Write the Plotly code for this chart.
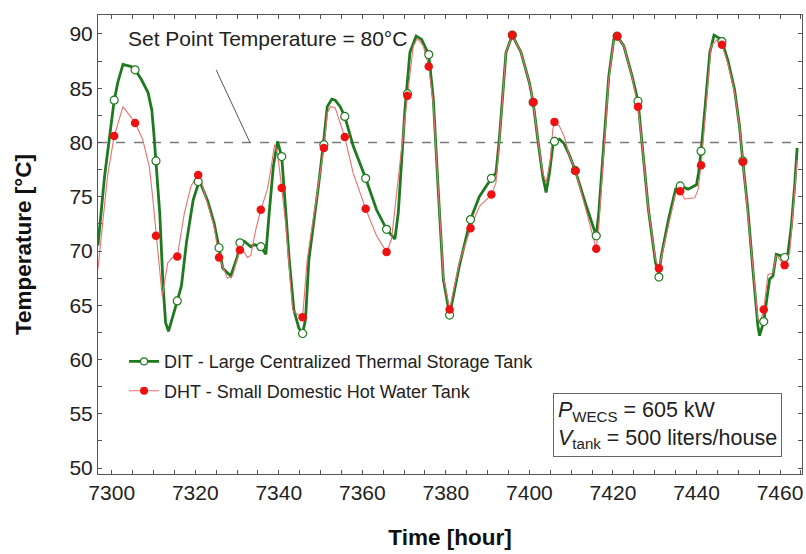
import plotly.graph_objects as go

# ---- data ----
dit_hours = [7296.7, 7298.3, 7300.6, 7301.5, 7302.7, 7304.7, 7305.6, 7307.1, 7308.7, 7309.6, 7310.1, 7310.6,
             7311.5, 7312.3, 7312.9, 7313.6, 7314.7, 7315.7, 7316.7, 7317.9, 7319.5, 7321.0, 7323.0, 7324.5,
             7325.7, 7326.6, 7328.5, 7330.1, 7330.7, 7331.7, 7333.3, 7334.1, 7335.7, 7336.9, 7337.7, 7338.7,
             7339.7, 7340.7, 7341.7, 7342.5, 7343.6, 7344.8, 7345.7, 7346.4, 7347.2, 7348.4, 7349.6, 7350.8,
             7351.6, 7352.7, 7353.5, 7354.7, 7355.8, 7357.8, 7360.8, 7363.4, 7365.8, 7367.8, 7368.6, 7370.2,
             7371.4, 7372.9, 7374.2, 7375.9, 7377.0, 7378.2, 7379.4, 7380.9, 7383.2, 7385.9, 7388.0, 7390.9,
             7392.0, 7392.8, 7393.6, 7394.4, 7395.9, 7398.0, 7400.0, 7400.9, 7402.0, 7403.2, 7404.0, 7404.8,
             7405.6, 7406.0, 7407.2, 7408.3, 7409.4, 7411.0, 7413.4, 7415.4, 7416.0, 7416.6, 7417.8, 7419.0,
             7420.2, 7421.0, 7422.6, 7424.6, 7426.0, 7427.0, 7428.5, 7430.2, 7431.0, 7431.7, 7433.3, 7435.0,
             7436.1, 7438.0, 7440.0, 7440.5, 7441.1, 7442.0, 7443.2, 7444.2, 7445.5, 7446.1, 7447.5, 7449.1,
             7450.3, 7451.1, 7452.3, 7453.5, 7454.7, 7455.1, 7456.1, 7456.7, 7457.5, 7458.3, 7459.1, 7459.9,
             7461.1, 7461.9, 7462.7, 7463.5, 7464.1]
dit_temp = [70.5, 76.9, 83.9, 85.6, 87.2, 87.0, 86.7, 85.8, 84.6, 83.0, 80.8, 78.3,
            73.5, 66.8, 63.4, 62.6, 64.0, 65.4, 66.8, 70.8, 74.7, 76.5, 74.6, 72.6,
            70.3, 68.4, 67.7, 69.5, 70.7, 70.9, 70.4, 70.6, 70.4, 69.7, 73.5, 77.8,
            80.1, 78.7, 73.5, 69.2, 64.6, 62.9, 62.4, 63.7, 69.2, 72.6, 76.3, 80.3,
            83.3, 84.0, 83.9, 83.3, 82.4, 79.7, 76.7, 73.8, 72.0, 71.1, 73.5, 83.0,
            88.3, 89.8, 89.5, 88.1, 84.0, 75.4, 67.4, 64.1, 68.6, 72.9, 75.0, 76.7,
            77.2, 80.3, 84.6, 88.3, 89.9, 88.3, 85.5, 83.7, 80.3, 76.9, 75.4, 77.2,
            79.7, 80.1, 80.3, 79.9, 79.0, 77.4, 74.4, 72.0, 71.4, 73.5, 80.0, 86.1,
            89.5, 89.8, 88.9, 86.1, 83.8, 80.0, 73.8, 68.9, 68.0, 69.8, 72.9, 75.7,
            76.0, 75.7, 76.1, 77.2, 79.2, 83.0, 88.3, 89.9, 89.6, 89.3, 87.6, 84.9,
            81.5, 78.2, 73.8, 68.3, 63.1, 62.2, 63.5, 65.2, 67.4, 67.7, 69.7, 69.6,
            69.4, 69.8, 72.3, 76.0, 79.5]

dht_hours = [7296.7, 7299.0, 7300.6, 7302.7, 7304.7, 7305.6, 7307.4, 7309.0, 7309.8, 7310.6, 7311.4, 7312.1,
             7312.6, 7313.4, 7314.5, 7315.7, 7317.4, 7319.0, 7320.7, 7321.3, 7323.0, 7324.5, 7325.7, 7327.7,
             7328.9, 7330.7, 7331.5, 7332.5, 7333.3, 7334.5, 7335.7, 7337.3, 7338.2, 7339.0, 7339.7, 7340.3,
             7340.7, 7341.7, 7342.5, 7343.3, 7344.0, 7345.7, 7346.8, 7348.4, 7350.8, 7351.6, 7352.4, 7353.5,
             7354.7, 7355.8, 7357.8, 7360.8, 7363.4, 7365.8, 7367.0, 7368.2, 7370.8, 7372.2, 7373.2, 7374.6,
             7375.9, 7377.0, 7378.2, 7379.4, 7380.9, 7383.2, 7385.9, 7388.0, 7390.9, 7392.0, 7392.8, 7393.6,
             7394.4, 7395.9, 7398.0, 7400.0, 7400.9, 7402.0, 7403.2, 7404.0, 7405.0, 7405.6, 7406.0, 7407.2,
             7408.3, 7409.4, 7411.0, 7413.4, 7415.4, 7416.0, 7416.6, 7417.8, 7419.0, 7420.2, 7421.0, 7422.6,
             7424.6, 7426.0, 7427.0, 7428.5, 7430.2, 7431.0, 7431.7, 7433.3, 7435.0, 7436.1, 7437.2, 7439.6,
             7440.4, 7441.1, 7442.0, 7443.5, 7445.0, 7446.1, 7447.5, 7449.1, 7450.3, 7451.1, 7452.3, 7453.5,
             7454.7, 7455.3, 7456.1, 7457.1, 7458.3, 7459.1, 7460.0, 7461.1, 7462.3, 7463.5, 7464.1]
dht_temp = [68.3, 76.9, 80.6, 83.3, 82.3, 81.8, 80.3, 77.8, 75.0, 71.4, 68.6, 65.8,
            67.0, 68.9, 69.4, 69.5, 73.5, 76.0, 77.0, 76.6, 74.3, 72.3, 69.4, 67.5,
            67.7, 70.1, 70.0, 69.4, 69.6, 72.0, 73.8, 75.7, 77.8, 79.8, 79.0, 77.2,
            75.8, 72.3, 68.6, 64.6, 64.3, 63.9, 69.2, 73.2, 79.5, 82.7, 83.3, 83.2,
            81.8, 80.5, 77.2, 73.9, 71.4, 69.9, 71.1, 75.4, 84.3, 88.9, 89.6, 88.9,
            87.0, 83.5, 75.4, 67.6, 64.6, 68.9, 72.1, 74.1, 75.2, 76.3, 80.0, 84.6,
            88.3, 89.9, 88.3, 85.5, 83.7, 80.3, 77.2, 76.3, 78.4, 81.2, 81.9, 81.5,
            80.6, 79.0, 77.4, 74.0, 71.0, 70.2, 72.3, 79.5, 85.8, 89.4, 89.8, 88.9,
            86.0, 83.3, 79.8, 73.8, 69.2, 68.4, 69.6, 72.6, 75.3, 75.5, 74.8, 74.9,
            75.7, 77.9, 82.1, 88.9, 89.5, 89.0, 87.3, 84.7, 81.5, 78.2, 73.8, 68.5,
            63.7, 63.5, 64.6, 67.8, 68.0, 69.6, 69.2, 68.7, 69.8, 75.4, 78.4]

marker_hours = [7300.6, 7305.6, 7310.6, 7315.7, 7320.7, 7325.7, 7330.7, 7335.7, 7340.7, 7345.7, 7350.8,
                7355.8, 7360.8, 7365.8, 7370.8, 7375.9, 7380.9, 7385.9, 7390.9, 7395.9, 7400.9, 7406.0,
                7411.0, 7416.0, 7421.0, 7426.0, 7431.0, 7436.1, 7441.1, 7446.1, 7451.1, 7456.1, 7461.1]
dit_marker_temp = [83.9, 86.7, 78.3, 65.4, 76.4, 70.3, 70.75, 70.4, 78.7, 62.4, 79.8,
                   82.4, 76.7, 72.0, 84.5, 88.1, 64.1, 72.9, 76.7, 89.9, 83.7, 80.1,
                   77.4, 71.4, 89.8, 83.8, 67.6, 76.0, 79.2, 89.3, 78.3, 63.5, 69.4]
dht_marker_temp = [80.6, 81.8, 71.4, 69.5, 77.0, 69.4, 70.1, 73.8, 75.8, 63.9, 79.5,
                   80.5, 73.9, 69.9, 84.3, 87.0, 64.6, 72.1, 75.2, 89.9, 83.7, 81.9,
                   77.4, 70.2, 89.8, 83.3, 68.4, 75.5, 77.9, 89.0, 78.2, 64.6, 68.7]

set_point = 80
x_ticks = [7300, 7320, 7340, 7360, 7380, 7400, 7420, 7440, 7460]
y_ticks = [50, 55, 60, 65, 70, 75, 80, 85, 90]

GREEN = "#1f7a1f"
RED_LINE = "#e87070"
RED = "#ee1111"
FONT = "Arial, Liberation Sans, sans-serif"

fig = go.Figure()

fig.add_trace(go.Scatter(x=dit_hours, y=dit_temp, mode="lines",
                         line=dict(color=GREEN, width=2.8), showlegend=False, hoverinfo="skip"))
fig.add_trace(go.Scatter(x=dht_hours, y=dht_temp, mode="lines",
                         line=dict(color=RED_LINE, width=1.1), showlegend=False, hoverinfo="skip"))
fig.add_trace(go.Scatter(x=marker_hours, y=dit_marker_temp, mode="markers",
                         marker=dict(symbol="circle", size=8, color="white",
                                     line=dict(color=GREEN, width=1.2)),
                         showlegend=False))
fig.add_trace(go.Scatter(x=marker_hours, y=dht_marker_temp, mode="markers",
                         marker=dict(symbol="circle", size=8.5, color=RED, line=dict(width=0)),
                         showlegend=False))
# legend entries
fig.add_trace(go.Scatter(x=[None], y=[None], mode="lines+markers", legendgroup="a",
                         name="DIT - Large Centralized Thermal Storage Tank",
                         line=dict(color=GREEN, width=2.8),
                         marker=dict(symbol="circle", size=7, color="white",
                                     line=dict(color=GREEN, width=1.2))))
fig.add_trace(go.Scatter(x=[None], y=[None], mode="lines+markers", legendgroup="b",
                         name="DHT - Small Domestic Hot Water Tank",
                         line=dict(color=RED_LINE, width=1.1),
                         marker=dict(symbol="circle", size=8, color=RED)))

# set point dashed line
fig.add_shape(type="line", xref="paper", x0=0, x1=1, yref="y", y0=set_point, y1=set_point,
              line=dict(color="#7a7a7a", width=1.3, dash="dash"), layer="below")
# leader line from label to set point
fig.add_shape(type="line", xref="x", yref="y", x0=7325.0, y0=86.7, x1=7333.1, y1=set_point,
              line=dict(color="#555555", width=1))

fig.add_annotation(x=7303.5, y=89.6, xref="x", yref="y", xanchor="left", yanchor="middle",
                   text="Set Point Temperature = 80°C", showarrow=False,
                   font=dict(family=FONT, size=21, color="#222222"))

fig.add_annotation(x=0.646, y=0.037, xref="paper", yref="paper", xanchor="left", yanchor="bottom",
                   text="<i>P</i><sub>WECS</sub> = 605 kW<br><i>V</i><sub>tank</sub> = 500 liters/house",
                   showarrow=False, align="left",
                   font=dict(family=FONT, size=21.5, color="#222222"),
                   bordercolor="#666666", borderwidth=1, borderpad=4, bgcolor="white")

axis_common = dict(showline=True, linecolor="#555555", linewidth=1, mirror="allticks",
                   ticks="inside", ticklen=4, tickcolor="#555555", showgrid=False, zeroline=False,
                   tickfont=dict(family=FONT, size=21, color="#222222"))

fig.update_xaxes(range=[7296.72, 7465.26], tickvals=x_ticks,
                 minor=dict(dtick=5, ticks="inside", ticklen=4, tickcolor="#555555", showgrid=False),
                 title=dict(text="<b>Time [hour]</b>", font=dict(family=FONT, size=22.5, color="#111111"),
                            standoff=26),
                 **axis_common)
fig.update_yaxes(range=[49.45, 91.75], tickvals=y_ticks,
                 minor=dict(dtick=2.5, ticks="inside", ticklen=4, tickcolor="#555555", showgrid=False),
                 title=dict(text="<b>Temperature [°C]</b>", font=dict(family=FONT, size=22.5, color="#111111"),
                            standoff=31),
                 **axis_common)

fig.update_layout(
    width=806, height=554,
    margin=dict(l=98, r=4, t=15, b=80, autoexpand=False),
    plot_bgcolor="white", paper_bgcolor="white",
    font=dict(family=FONT, color="#222222"),
    legend=dict(x=0.037, y=0.285, xanchor="left", yanchor="top", bgcolor="rgba(0,0,0,0)",
                font=dict(family=FONT, size=18, color="#222222"), tracegroupgap=3,
                traceorder="grouped"),
)

fig.write_html("out.html", config={"displayModeBar": False},
               post_script="document.body.style.margin='0';")
